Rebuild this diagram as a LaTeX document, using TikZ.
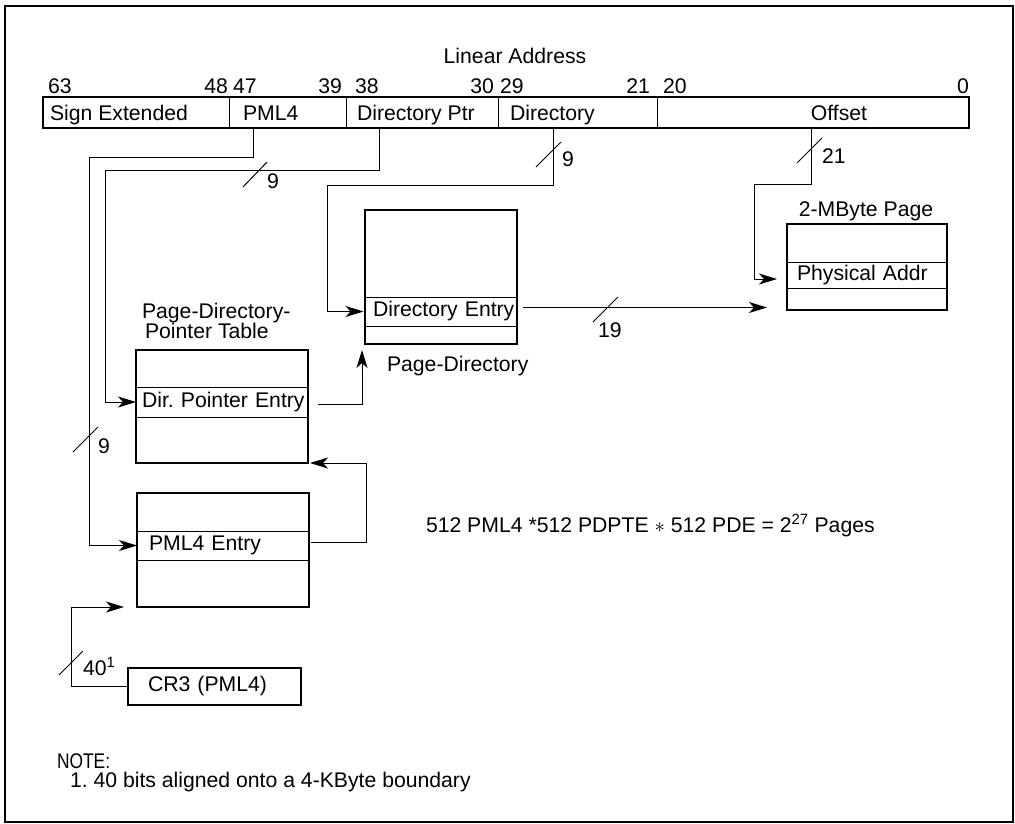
\documentclass[tikz,border=0pt]{standalone}
\usepackage{fontspec}
\setmainfont{Liberation Sans}
\newfontfamily\narrowfont[FakeStretch=0.82]{Liberation Sans}
\usetikzlibrary{arrows.meta,positioning,calc,fit}
\frenchspacing

\begin{document}
\begin{tikzpicture}[x=1pt,y=-1pt,
  every node/.style={font=\fontsize{21.2}{20}\selectfont,inner sep=0pt,outer sep=0pt},
  field/.style={draw,line width=1pt,minimum height=31.5pt,anchor=west},
  tbl/.style={draw,line width=2.2pt,anchor=north west},
  entry/.style={draw,line width=1pt,anchor=west,align=left},
  txt/.style={anchor=base west},
  wire/.style={line width=1pt},
  arr/.style={wire,-{Stealth[length=18pt,width=11pt,inset=5pt]}},
  tick/.style={line width=1pt}]
  \useasboundingbox (0,0) rectangle (1015,823);
  \draw[line width=2pt] (4.5,6) rectangle (1013,821.5);

  \node[anchor=base] (title) at (515,63) {Linear Address};
  \node[field,minimum width=186.5pt] (fsign) at (42.5,112.25) {};
  \node[field,minimum width=117pt,right=0pt of fsign] (fpml4) {};
  \node[field,minimum width=152pt,right=0pt of fpml4] (fdptr) {};
  \node[field,minimum width=159pt,right=0pt of fdptr] (fdir) {};
  \node[field,minimum width=312pt,right=0pt of fdir] (foff) {};
  \node[draw,line width=2pt,fit=(fsign)(foff),inner sep=0pt] (addr) {};
  \node[txt] (lsign) at (50,120) {Sign Extended};
  \node[txt] (lpml4) at (243,120) {PML4};
  \node[txt] (ldptr) at (357,120) {Directory Ptr};
  \node[txt] (ldir) at (510,120) {Directory};
  \node[anchor=base] (loff) at (839,120) {Offset};
  \node[txt] (b63) at (48,93) {63};
  \node[anchor=base east] (b48) at (228,93) {48};
  \node[txt] (b47) at (233,93) {47};
  \node[anchor=base east] (b39) at (342,93) {39};
  \node[txt] (b38) at (355,93) {38};
  \node[anchor=base east] (b30) at (494,93) {30};
  \node[txt] (b29) at (500,93) {29};
  \node[anchor=base east] (b21) at (650,93) {21};
  \node[txt] (b20) at (663,93) {20};
  \node[anchor=base east] (b0) at (969,93) {0};

  \node[tbl,minimum width=152pt,minimum height=134pt] (pd) at (365,210) {};
  \node[entry,text width=152pt,minimum height=29pt] (pde) at (365,311.5) {\hspace*{8pt}\mbox{Directory Entry}};
  \node[txt] (pdname) at (387,371) {Page-Directory};

  \node[tbl,minimum width=172pt,minimum height=113pt] (pdpt) at (136,350) {};
  \node[entry,text width=172pt,minimum height=30pt] (pdpte) at (136,402) {\hspace*{6pt}\mbox{Dir.\ Pointer Entry}};
  \node[txt,align=left] (pdptname) at (142,338) {Page-Directory-\\\hspace*{3pt}Pointer Table};

  \node[tbl,minimum width=172pt,minimum height=114pt] (pml4) at (137,493) {};
  \node[entry,text width=172pt,minimum height=29pt] (pml4e) at (137,545.5) {\hspace*{12pt}\mbox{PML4 Entry}};

  \node[tbl,minimum width=160pt,minimum height=86pt] (pg) at (787,224) {};
  \node[entry,text width=160pt,minimum height=26pt] (pge) at (787,275) {\hspace*{10pt}\mbox{Physical Addr}};
  \node[anchor=base] (pgname) at (866,216) {2-MByte Page};

  \node[tbl,minimum width=173pt,minimum height=37pt,text width=173pt,align=left] (cr3) at (128,668) {\hspace*{20pt}\mbox{CR3 (PML4)}};

  \draw[arr] ([xshift=-34.5pt]fpml4.south) |- (89,157) |- (pml4e.west);
  \draw[arr] ([xshift=-43pt]fdptr.south) |- (105,170) |- (pdpte.west);
  \draw[arr,shorten >=1.5pt] ([xshift=-24.5pt]fdir.south) |- (327,185) |- (pde.west);
  \draw[arr,shorten >=10pt] ([xshift=-2pt]foff.south) |- (754,184) |- ([yshift=-4pt]pge.west);
  \draw[arr,shorten <=6pt,shorten >=20pt] ([yshift=4pt]pde.east) -- ([yshift=4pt]pde.east -| pg.west);
  \draw[arr,shorten <=10pt,shorten >=6pt] ([yshift=-2pt]pdpte.east) -| ([xshift=-3pt]pd.south west);
  \draw[arr,shorten <=2pt,shorten >=2pt] ([yshift=3pt]pml4e.east) -| ([xshift=58pt]pdpt.south east) -- (pdpt.south east);
  \draw[arr,shorten >=13pt] (cr3.west) -| ([xshift=-66pt]pml4.south west) -- (pml4.south west);

  \draw[tick] (243,187) -- ++(24,-25);
  \node[txt] (w1) at (267,188) {9};
  \draw[tick] (536,167) -- ++(25,-25);
  \node[txt] (w2) at (562,166) {9};
  \draw[tick] (797,163) -- ++(25,-25);
  \node[txt] (w3) at (822,163) {21};
  \draw[tick] (593,322) -- ++(25,-25);
  \node[txt] (w4) at (598,337) {19};
  \draw[tick] (73,452) -- ++(25,-25);
  \node[txt] (w5) at (98,453) {9};
  \draw[tick] (59,675) -- ++(24,-24);
  \node[txt] (w6) at (83,675) {40\textsuperscript{1}};

  \node[txt] (sum) at (426,532) {512 PML4 *512 PDPTE $\ast$ 512 PDE = 2\textsuperscript{27} Pages};
  \node[txt] (note) at (57,768) {\narrowfont NOTE:};
  \node[txt] (note1) at (70,787) {1. 40 bits aligned onto a 4-KByte boundary};
\end{tikzpicture}
\end{document}
